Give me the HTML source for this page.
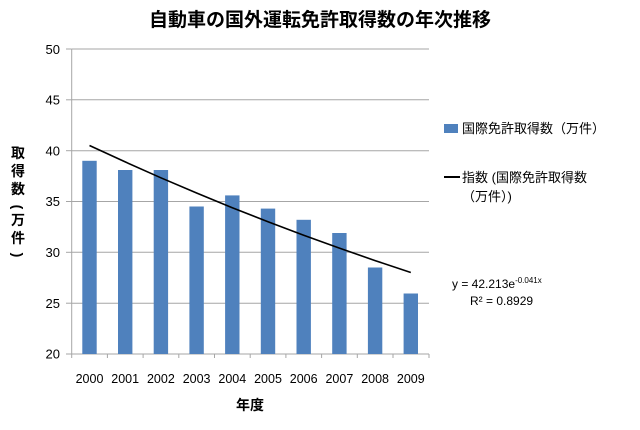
<!DOCTYPE html>
<html><head><meta charset="utf-8"><style>
body{margin:0;background:#fff;}
svg text{font-family:"Liberation Sans","Noto Sans CJK JP",sans-serif;}
</style></head><body>
<svg width="640" height="425" viewBox="0 0 640 425" xmlns="http://www.w3.org/2000/svg">
<rect width="640" height="425" fill="#fff"/>
<text x="320" y="26" font-size="19" font-weight="bold" text-anchor="middle" fill="#000">自動車の国外運転免許取得数の年次推移</text>
<g stroke="#a6a6a6" stroke-width="1">
<line x1="71.7" y1="49" x2="429" y2="49"/>
<line x1="71.7" y1="99.8" x2="429" y2="99.8"/>
<line x1="71.7" y1="150.7" x2="429" y2="150.7"/>
<line x1="71.7" y1="201.5" x2="429" y2="201.5"/>
<line x1="71.7" y1="252.3" x2="429" y2="252.3"/>
<line x1="71.7" y1="303.2" x2="429" y2="303.2"/>
<line x1="71.7" y1="354" x2="429" y2="354"/>
<line x1="71.7" y1="49" x2="71.7" y2="358"/>
<line x1="66" y1="49" x2="71.7" y2="49"/><line x1="66" y1="99.8" x2="71.7" y2="99.8"/><line x1="66" y1="150.7" x2="71.7" y2="150.7"/><line x1="66" y1="201.5" x2="71.7" y2="201.5"/><line x1="66" y1="252.3" x2="71.7" y2="252.3"/><line x1="66" y1="303.2" x2="71.7" y2="303.2"/><line x1="66" y1="354" x2="71.7" y2="354"/>
<line x1="107.4" y1="354" x2="107.4" y2="358"/><line x1="143.1" y1="354" x2="143.1" y2="358"/><line x1="178.8" y1="354" x2="178.8" y2="358"/><line x1="214.5" y1="354" x2="214.5" y2="358"/><line x1="250.2" y1="354" x2="250.2" y2="358"/><line x1="285.9" y1="354" x2="285.9" y2="358"/><line x1="321.6" y1="354" x2="321.6" y2="358"/><line x1="357.3" y1="354" x2="357.3" y2="358"/><line x1="393" y1="354" x2="393" y2="358"/><line x1="429" y1="354" x2="429" y2="358"/>
</g>
<g fill="#4f81bd">
<rect x="82.3" y="160.8" width="14.4" height="193.2"/>
<rect x="118" y="170" width="14.4" height="184"/>
<rect x="153.7" y="170" width="14.4" height="184"/>
<rect x="189.4" y="206.5" width="14.4" height="147.5"/>
<rect x="225.1" y="195.4" width="14.4" height="158.6"/>
<rect x="260.8" y="208.6" width="14.4" height="145.4"/>
<rect x="296.5" y="219.8" width="14.4" height="134.2"/>
<rect x="332.2" y="233" width="14.4" height="121"/>
<rect x="367.9" y="267.5" width="14.4" height="86.5"/>
<rect x="403.6" y="293.5" width="14.4" height="60.5"/>
</g>
<polyline fill="none" stroke="#000" stroke-width="1.6" points="89.5,145.5 125.2,161.9 160.9,177.8 196.6,193 232.3,207.7 268,221.7 303.7,235.2 339.4,248.1 375.1,260.6 410.8,272.5"/>
<g font-size="13" fill="#000" text-anchor="end">
<text x="60" y="54">50</text><text x="60" y="104.5">45</text><text x="60" y="155.5">40</text><text x="60" y="206">35</text><text x="60" y="257">30</text><text x="60" y="308">25</text><text x="60" y="358.5">20</text>
</g>
<g font-size="12.5" fill="#000" text-anchor="middle">
<text x="89.5" y="383">2000</text><text x="125.2" y="383">2001</text><text x="160.9" y="383">2002</text><text x="196.6" y="383">2003</text><text x="232.3" y="383">2004</text><text x="268" y="383">2005</text><text x="303.7" y="383">2006</text><text x="339.4" y="383">2007</text><text x="375.1" y="383">2008</text><text x="410.8" y="383">2009</text>
</g>
<text x="250" y="410" font-size="14" font-weight="bold" text-anchor="middle">年度</text>
<g font-size="14" font-weight="bold" text-anchor="middle">
<text x="18" y="158">取</text><text x="18" y="176">得</text><text x="18" y="194">数</text>
<text x="18" y="212" transform="rotate(90 18 207)">(</text>
<text x="18" y="225">万</text><text x="18" y="243">件</text>
<text x="18" y="260" transform="rotate(90 18 255)">)</text>
</g>
<rect x="444" y="124" width="14" height="9" fill="#4f81bd"/>
<text x="462" y="133" font-size="13">国際免許取得数（万件）</text>
<line x1="444" y1="177" x2="460" y2="177" stroke="#000" stroke-width="2"/>
<text x="462" y="182" font-size="13">指数 (国際免許取得数</text>
<text x="462" y="201" font-size="13">（万件）)</text>
<text x="452" y="288" font-size="12">y = 42.213e<tspan font-size="8" dy="-5">-0.041x</tspan></text>
<text x="470" y="305" font-size="12">R² = 0.8929</text>
</svg>
</body></html>
